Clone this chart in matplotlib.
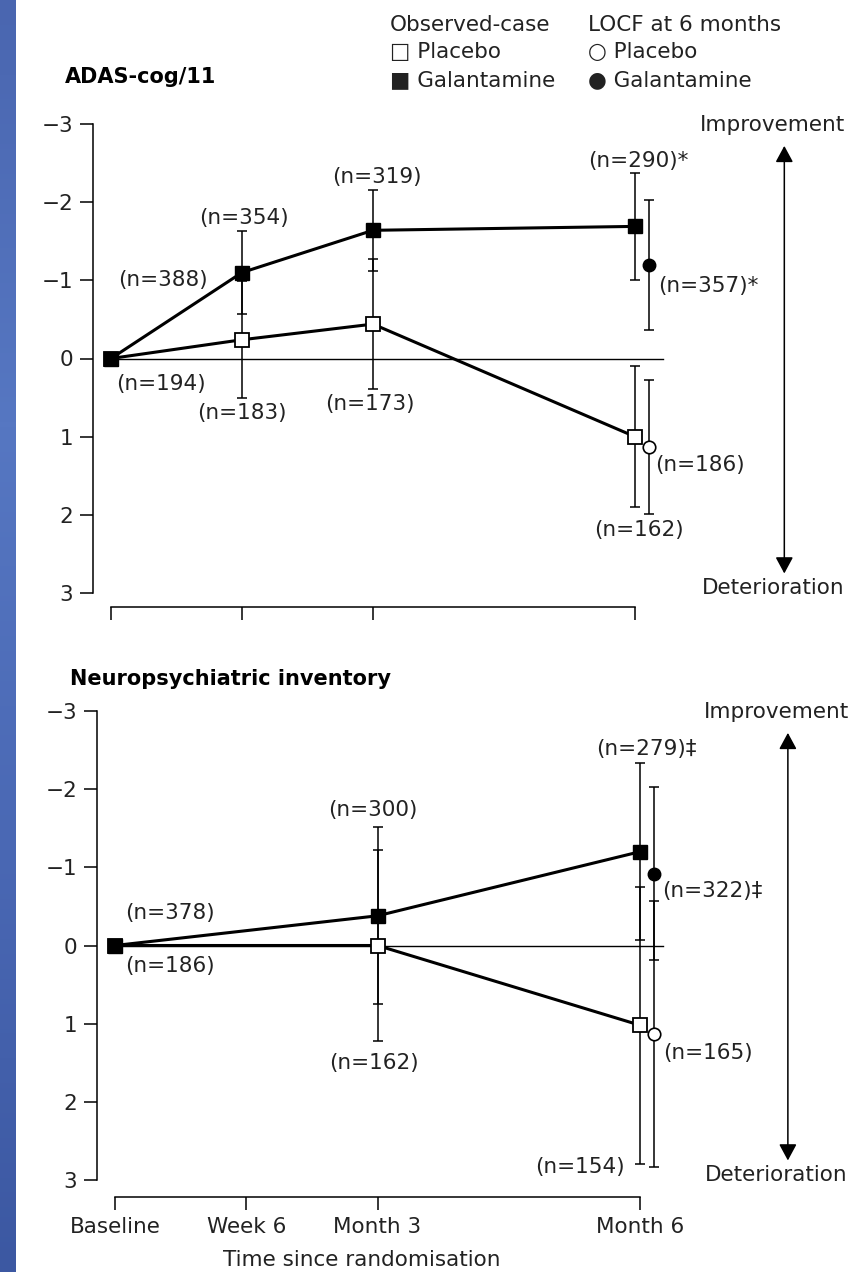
import numpy as np
import matplotlib
matplotlib.use("Agg")
import matplotlib.pyplot as plt
from matplotlib.colors import LinearSegmentedColormap

plt.rcParams['font.family'] = ['DejaVu Sans']
plt.rcParams['font.size'] = 15.5

W, H = 858, 1272

# x positions in months since randomisation
tick_months = [0, 1.5, 3, 6]
tick_labels = ["Baseline", "Week 6", "Month 3", "Month 6"]
locf_shift = 0.155

# ADAS-cog/11 (observed-case)
adas_x = [0, 1.5, 3, 6]
adas_gal = [0, -1.10, -1.64, -1.69]
adas_gal_err = [0, 0.53, 0.52, 0.68]
adas_pla = [0, -0.24, -0.44, 1.00]
adas_pla_err = [0, 0.75, 0.83, 0.90]
# ADAS-cog/11 LOCF at 6 months
adas_locf_gal, adas_locf_gal_err = -1.20, 0.83
adas_locf_pla, adas_locf_pla_err = 1.13, 0.86
adas_n = [("(n=388)", 0.60, -1.00), ("(n=354)", 1.52, -1.80), ("(n=319)", 3.05, -2.32),
          ("(n=290)*", 6.04, -2.53), ("(n=357)*", 6.84, -0.93), ("(n=194)", 0.57, 0.32),
          ("(n=183)", 1.50, 0.70), ("(n=173)", 2.97, 0.58), ("(n=186)", 6.74, 1.36),
          ("(n=162)", 6.04, 2.19)]

# Neuropsychiatric inventory (observed-case)
npi_x = [0, 3, 6]
npi_gal = [0, -0.38, -1.20]
npi_gal_err = [0, 1.13, 1.13]
npi_pla = [0, 0.0, 1.02]
npi_pla_err = [0, 1.22, 1.77]
# NPI LOCF at 6 months
npi_locf_gal, npi_locf_gal_err = -0.92, 1.11
npi_locf_pla, npi_locf_pla_err = 1.13, 1.70
npi_n = [("(n=378)", 0.63, -0.41), ("(n=186)", 0.63, 0.26), ("(n=300)", 2.95, -1.73),
         ("(n=162)", 2.96, 1.50), ("(n=279)\u2021", 6.07, -2.52), ("(n=322)\u2021", 6.83, -0.70),
         ("(n=165)", 6.78, 1.38), ("(n=154)", 5.31, 2.84)]

TXT = '#222222'

fig = plt.figure(figsize=(W / 100, H / 100), dpi=100)

# blue strip on the left
strip = fig.add_axes([0, 0, 16 / W, 1])
cmap = LinearSegmentedColormap.from_list('strip', ['#4a66b0', '#5677c2', '#4a68b4', '#3c58a2'])
strip.imshow(np.linspace(0, 1, 256).reshape(-1, 1), aspect='auto', cmap=cmap)
strip.axis('off')


def make_axes(x0, y_top, y_bot, px_per_month, x_gap):
    ax = fig.add_axes([x0 / W, 1 - y_bot / H, (W - x0) / W, (y_bot - y_top) / H])
    ax.set_xlim(0, (W - x0) / px_per_month)
    ax.set_ylim(3, -3)
    ax.patch.set_alpha(0)
    for s in ['top', 'right']:
        ax.spines[s].set_visible(False)
    ax.spines['left'].set_position(('outward', 18 * 0.72))
    ax.spines['bottom'].set_position(('outward', x_gap * 0.72))
    ax.spines['left'].set_bounds(-3, 3)
    ax.spines['bottom'].set_bounds(0, 6)
    for s in ['left', 'bottom']:
        ax.spines[s].set_linewidth(1.1)
    ax.set_yticks([-3, -2, -1, 0, 1, 2, 3])
    ax.set_yticklabels(['\u22123', '\u22122', '\u22121', '0', '1', '2', '3'], color=TXT)
    ax.set_xticks(tick_months)
    ax.tick_params(length=9.4, width=1.1, pad=5)
    return ax


def draw_panel(ax, x, gal, gal_err, pla, pla_err, lg, lg_err, lp, lp_err, notes, zero_end, arrow_x):
    ax.plot([0, zero_end], [0, 0], color='black', lw=1.0, zorder=1)
    x6 = 6 + locf_shift
    eb = dict(fmt='none', ecolor='black', elinewidth=1.1, capsize=3.4, capthick=1.1, zorder=2)
    ax.errorbar(x[1:], pla[1:], yerr=pla_err[1:], **eb)
    ax.errorbar(x[1:], gal[1:], yerr=gal_err[1:], **eb)
    ax.errorbar([x6, x6], [lg, lp], yerr=[lg_err, lp_err], **eb)
    ax.plot(x, pla, color='black', lw=2.2, marker='s', ms=9.5, mfc='white',
            mec='black', mew=1.3, zorder=3, clip_on=False)
    ax.plot(x, gal, color='black', lw=2.2, marker='s', ms=9.5, mfc='black',
            mec='black', zorder=4, clip_on=False)
    ax.plot([x6], [lp], marker='o', ms=9, mfc='white', mec='black', mew=1.2, ls='none', zorder=3)
    ax.plot([x6], [lg], marker='o', ms=9, mfc='black', mec='black', ls='none', zorder=4)
    for txt, tx, ty in notes:
        ax.text(tx, ty, txt, ha='center', va='center', color=TXT)
    ax.annotate('', xy=(arrow_x, -2.72), xytext=(arrow_x, 2.75),
                arrowprops=dict(arrowstyle='<|-|>,head_length=0.5,head_width=0.27',
                                lw=1.1, color='black', mutation_scale=20,
                                shrinkA=0, shrinkB=0))
    ax.text(arrow_x - 0.13, -2.99, 'Improvement', ha='center', va='center', color=TXT)
    ax.text(arrow_x - 0.13, 2.93, 'Deterioration', ha='center', va='center', color=TXT)


ax1 = make_axes(111, 124, 593, 87.33, 14)
ax1.set_xticklabels([])
draw_panel(ax1, adas_x, adas_gal, adas_gal_err, adas_pla, adas_pla_err,
           adas_locf_gal, adas_locf_gal_err, adas_locf_pla, adas_locf_pla_err,
           adas_n, 6.32, 7.71)

ax2 = make_axes(115, 711, 1180, 87.5, 17)
ax2.set_xticklabels(tick_labels, color=TXT)
draw_panel(ax2, npi_x, npi_gal, npi_gal_err, npi_pla, npi_pla_err,
           npi_locf_gal, npi_locf_gal_err, npi_locf_pla, npi_locf_pla_err,
           npi_n, 6.26, 7.69)

# titles
fig.text(65 / W, 1 - 77 / H, 'ADAS-cog/11', fontweight='bold', fontsize=15, va='center', color='black')
fig.text(70 / W, 1 - 679 / H, 'Neuropsychiatric inventory', fontweight='bold', fontsize=15,
         va='center', color='black')
fig.text(362 / W, 1 - 1260 / H, 'Time since randomisation', ha='center', va='center', color=TXT)

# legend
fig.text(390 / W, 1 - 25 / H, 'Observed-case', va='center', color=TXT)
fig.text(390 / W, 1 - 52 / H, '\u25a1 Placebo', va='center', color=TXT)
fig.text(390 / W, 1 - 80 / H, '\u25a0 Galantamine', va='center', color=TXT)
fig.text(588 / W, 1 - 25 / H, 'LOCF at 6 months', va='center', color=TXT)
fig.text(588 / W, 1 - 52 / H, '\u25cb Placebo', va='center', color=TXT)
fig.text(588 / W, 1 - 80 / H, '\u25cf Galantamine', va='center', color=TXT)

fig.savefig('out.png', dpi=100)
